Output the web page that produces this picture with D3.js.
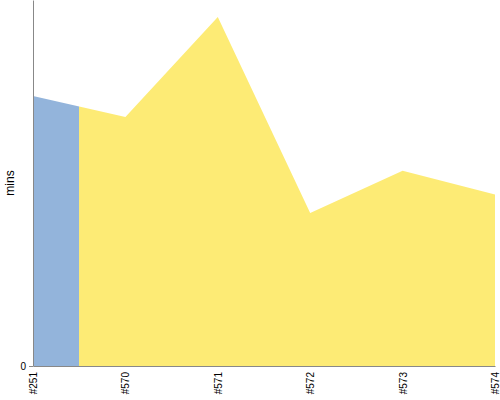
<!DOCTYPE html>
<html>
<head>
<meta charset="utf-8">
<script src="https://cdn.jsdelivr.net/npm/d3@7"></script>
<style>
  body { margin: 0; background: #fff; }
  text { font-family: "Liberation Sans", Arial, sans-serif; }
</style>
</head>
<body>
<svg id="chart"></svg>
<script>
// Chart data
var builds = ["#251", "#570", "#571", "#572", "#573", "#574"];
var minutes = [33.2, 30.6, 42.9, 18.8, 24.0, 21.1];
var yTicks = [0];

var margin = { top: 0, right: 5, bottom: 34, left: 33 };
var width = 500 - margin.left - margin.right;
var height = 400 - margin.top - margin.bottom;

var svg = d3.select("#chart")
    .attr("width", 500)
    .attr("height", 400);

var chart = svg.append("g")
    .attr("transform", "translate(" + margin.left + "," + margin.top + ")");

var xScale = d3.scalePoint()
    .domain(builds)
    .range([0, width]);

var yScale = d3.scaleLinear()
    .domain([0, 45])
    .range([height, 0]);

var data = builds.map(function (b, i) { return { build: b, value: minutes[i] }; });

// colour split halfway between the first two builds
var split = (xScale(builds[0]) + xScale(builds[1])) / 2;

var grad = svg.append("defs").append("linearGradient")
    .attr("id", "fillSplit")
    .attr("gradientUnits", "userSpaceOnUse")
    .attr("x1", 0).attr("x2", width)
    .attr("y1", 0).attr("y2", 0);
grad.append("stop").attr("offset", split / width).attr("stop-color", "#93b4db");
grad.append("stop").attr("offset", split / width).attr("stop-color", "#fdeb75");

chart.append("path")
    .datum(data)
    .attr("fill", "url(#fillSplit)")
    .attr("d", d3.area()
        .x(function (d) { return xScale(d.build); })
        .y0(height)
        .y1(function (d) { return yScale(d.value); })
    );

// x axis
var xAxis = chart.append("g")
    .attr("transform", "translate(0," + height + ")")
    .call(d3.axisBottom(xScale).tickSize(0).tickPadding(0));
xAxis.select(".domain").attr("stroke", "#888");
xAxis.selectAll("text")
    .style("font-size", "10px")
    .style("text-anchor", "end")
    .attr("fill", "#000")
    .attr("dy", "0.35em")
    .attr("y", 0)
    .attr("transform", "translate(0,6) rotate(-90)");

// y axis
var yAxis = chart.append("g")
    .call(d3.axisLeft(yScale).tickValues(yTicks).tickSize(4).tickSizeOuter(0).tickPadding(3));
yAxis.select(".domain").attr("stroke", "#888");
yAxis.selectAll(".tick line").attr("stroke", "#888");
yAxis.selectAll("text").style("font-size", "10px").attr("fill", "#000");

chart.append("text")
    .attr("transform", "rotate(-90)")
    .attr("x", -height / 2)
    .attr("y", -19)
    .attr("text-anchor", "middle")
    .style("font-size", "12px")
    .text("mins");
</script>
</body>
</html>
